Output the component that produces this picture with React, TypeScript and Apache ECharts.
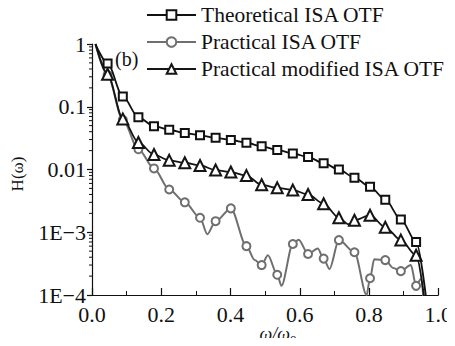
import React, { useEffect, useRef } from "react";
import * as echarts from "echarts";

// marker positions (ω/ω0) shared by all three curves
const markerX = [0.045, 0.089, 0.134, 0.179, 0.223, 0.268, 0.312, 0.357, 0.401, 0.446, 0.49, 0.535, 0.58, 0.624, 0.669, 0.713, 0.758, 0.803, 0.847, 0.892, 0.936];

const theoreticalY = [0.49, 0.146, 0.068, 0.049, 0.043, 0.038, 0.035, 0.032, 0.0295, 0.0267, 0.0234, 0.0205, 0.018, 0.0158, 0.0126, 0.01, 0.0074, 0.0053, 0.0033, 0.0016, 0.0007];
const theoreticalExtraX = [0.01, 0.975];
const theoreticalExtraY = [1, 0.00003];

const practicalY = [0.32, 0.062, 0.021, 0.0104, 0.0048, 0.003, 0.0017, 0.0015, 0.0024, 0.0006, 0.0003, 0.00021, 0.00065, 0.00045, 0.00038, 0.00075, 0.00048, 0.000185, 0.00036, 0.00024, 0.00014];
const practicalExtraX = [0.01, 0.333, 0.47, 0.508, 0.547, 0.597, 0.652, 0.686, 0.793, 0.815, 0.87, 0.921, 0.95, 0.962];
const practicalExtraY = [1, 0.00093, 0.00036, 0.00043, 0.00014, 0.00076, 0.00055, 0.00026, 0.0001, 0.00037, 0.00027, 0.0003, 0.00018, 0.00003];

const modifiedY = [0.33, 0.064, 0.027, 0.0173, 0.014, 0.0128, 0.0116, 0.0098, 0.0091, 0.008, 0.0057, 0.0051, 0.0047, 0.004, 0.00285, 0.0017, 0.00155, 0.00187, 0.0012, 0.00075, 0.00043];
const modifiedExtraX = [0.01, 0.741, 0.97];
const modifiedExtraY = [1, 0.00134, 0.00003];

const seriesNames = ["Theoretical ISA OTF", "Practical ISA OTF", "Practical modified ISA OTF"];
const xTickLabels = ["0.0", "0.2", "0.4", "0.6", "0.8", "1.0"];
const yTickLabels: Record<string, string> = { "1": "1", "0.1": "0.1", "0.01": "0.01", "0.001": "1E\u22123", "0.0001": "1E\u22124" };
const minorTickValues: number[] = [];
for (let k = -4; k <= -1; k++) for (let m = 2; m <= 9; m++) minorTickValues.push(m * Math.pow(10, k));

function buildData(ys: number[], ex: number[], ey: number[]) {
  const pts: any[] = markerX.map((x, i) => ({ value: [x, ys[i]] }));
  ex.forEach((x, i) => pts.push({ value: [x, ey[i]], symbol: "none" }));
  pts.sort((a, b) => a.value[0] - b.value[0]);
  return pts;
}

const FONT = "Liberation Serif";

export default function App() {
  const ref = useRef<HTMLDivElement>(null);
  useEffect(() => {
    if (!ref.current) return;
    const chart = echarts.init(ref.current, null, { renderer: "svg" });
    chart.setOption({
      animation: false,
      backgroundColor: "#fff",
      grid: { left: 92, right: 16, top: 44, bottom: 51, containLabel: false },
      legend: {
        orient: "vertical",
        left: 146,
        top: 4,
        padding: 0,
        itemWidth: 49,
        itemHeight: 12,
        itemGap: 5,
        data: seriesNames,
        textStyle: { fontFamily: FONT, fontSize: 21.5, color: "#111", lineHeight: 22 },
      },
      xAxis: {
        type: "value",
        min: 0,
        max: 1,
        interval: 0.2,
        splitLine: { show: false },
        axisLine: { lineStyle: { color: "#111", width: 1.2 } },
        axisTick: { inside: true, length: 7, lineStyle: { color: "#111", width: 1.2 } },
        minorTick: { show: true, splitNumber: 2, length: 4, lineStyle: { color: "#111", width: 1 } },
        axisLabel: {
          margin: 8,
          fontFamily: FONT,
          fontSize: 22,
          color: "#111",
          formatter: (v: number) => xTickLabels[Math.round(v / 0.2)] ?? "",
        },
      },
      yAxis: {
        type: "log",
        logBase: 10,
        min: 0.0001,
        max: 1,
        splitLine: { show: false },
        axisLine: { show: true, lineStyle: { color: "#111", width: 1.2 } },
        axisTick: { show: true, inside: false, length: 5, lineStyle: { color: "#111", width: 1.2 } },
        axisLabel: {
          margin: 6,
          fontFamily: FONT,
          fontSize: 22,
          color: "#111",
          formatter: (v: number) => {
            const key = String(Number(v.toPrecision(3)));
            return yTickLabels[key] ?? "";
          },
        },
      },
      graphic: [
        {
          type: "text",
          x: 17,
          y: 174,
          rotation: Math.PI / 2,
          style: { text: "H(\u03c9)", font: `17px "${FONT}"`, fill: "#111", align: "center", verticalAlign: "middle" },
        },
        {
          type: "text",
          x: 115,
          y: 59,
          style: { text: "(b)", font: `20px "${FONT}"`, fill: "#111", align: "left", verticalAlign: "middle" },
        },
        {
          type: "text",
          x: 290,
          y: 334,
          style: { text: "\u03c9/\u03c9", font: `italic 18px "${FONT}"`, fill: "#111", align: "right", verticalAlign: "middle" },
        },
        {
          type: "text",
          x: 290,
          y: 339,
          style: { text: "0", font: `13px "${FONT}"`, fill: "#111", align: "left", verticalAlign: "middle" },
        },
      ],
      series: [
        {
          name: seriesNames[1],
          type: "line",
          data: buildData(practicalY, practicalExtraX, practicalExtraY),
          smooth: 0.3,
          smoothMonotone: "x",
          clip: true,
          symbol: "emptyCircle",
          symbolSize: 8,
          color: "#6f6f6f",
          lineStyle: { color: "#6f6f6f", width: 2 },
          itemStyle: { color: "#6f6f6f", borderWidth: 2 },
          z: 2,
        },
        {
          name: seriesNames[2],
          type: "line",
          data: buildData(modifiedY, modifiedExtraX, modifiedExtraY),
          smooth: 0.3,
          smoothMonotone: "x",
          clip: true,
          symbol: "emptyTriangle",
          symbolSize: 11,
          color: "#151515",
          lineStyle: { color: "#151515", width: 1.8 },
          itemStyle: { color: "#151515", borderWidth: 2 },
          z: 3,
        },
        {
          name: seriesNames[0],
          type: "line",
          data: buildData(theoreticalY, theoreticalExtraX, theoreticalExtraY),
          smooth: 0.3,
          smoothMonotone: "x",
          clip: true,
          symbol: "emptyRect",
          symbolSize: 8,
          color: "#111",
          lineStyle: { color: "#111", width: 1.8 },
          itemStyle: { color: "#111", borderWidth: 2.2 },
          z: 4,
        },
        {
          name: "minor",
          type: "custom",
          clip: false,
          silent: true,
          data: minorTickValues.map((v) => [0, v]),
          renderItem: (params: any, api: any) => {
            const p = api.coord([0, api.value(1)]);
            return {
              type: "line",
              shape: { x1: p[0] - 3, y1: p[1], x2: p[0], y2: p[1] },
              style: { stroke: "#111", lineWidth: 1 },
            };
          },
          z: 5,
        },
      ],
    });
    return () => chart.dispose();
  }, []);
  return <div ref={ref} style={{ width: 455, height: 346, margin: -8 }} />;
}
